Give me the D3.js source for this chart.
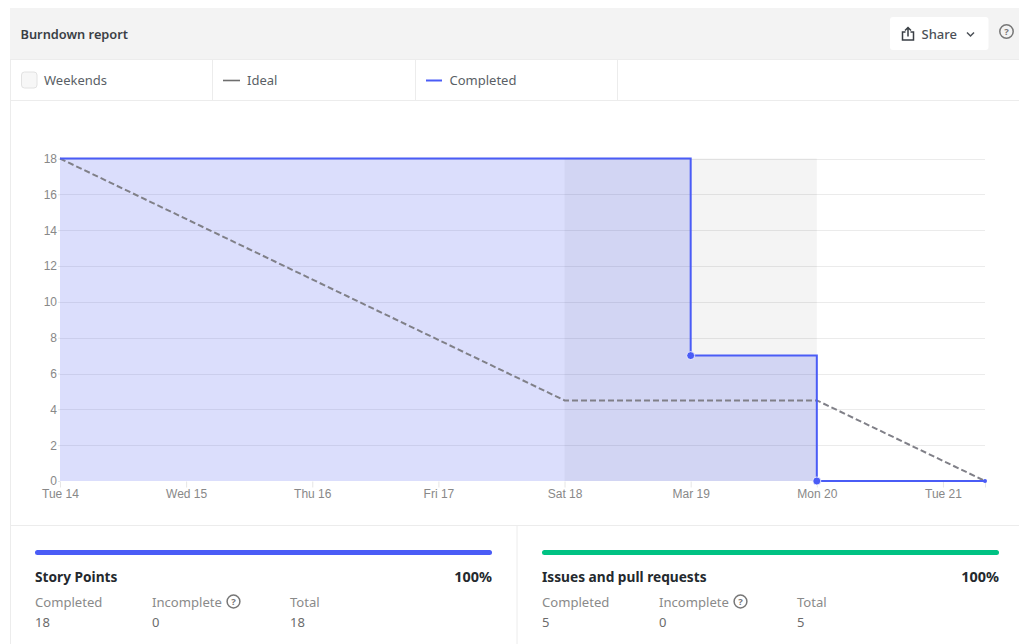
<!DOCTYPE html>
<html>
<head>
<meta charset="utf-8">
<script src="https://cdn.jsdelivr.net/npm/d3@7"></script>
<style>
  html, body { margin: 0; padding: 0; background: #fff; overflow: hidden; }
  svg { display: block; }
  text { font-family: "Noto Sans", sans-serif; }
  .axis text { font-family: "Liberation Sans", Arial, sans-serif; font-size: 12px; fill: #888; }
  .axis path { display: none; }
  .axis line { stroke: #e6e6e6; }
  .grid line { stroke: #000; stroke-opacity: 0.08; }
  .label { fill: #8a8a8a; }
  .value { fill: #6b6b6b; }
  .title { font-size: 13.7px; font-weight: 700; fill: #24292e; }
</style>
</head>
<body>
<script>
const width = 1019,
      height = 644;

// x positions are days, the axis ends a third of a day into Tue 21
const tickDates = ["2023-03-14", "2023-03-15", "2023-03-16", "2023-03-17", "2023-03-18", "2023-03-19", "2023-03-20", "2023-03-21"];
const tickLabels = ["Tue 14", "Wed 15", "Thu 16", "Fri 17", "Sat 18", "Mar 19", "Mon 20", "Tue 21"];
const endDate = "2023-03-21T08:00";
const yTicks = [0, 2, 4, 6, 8, 10, 12, 14, 16, 18];

const idealDates = ["2023-03-14", "2023-03-18", "2023-03-20", endDate];
const idealValues = [18, 4.5, 4.5, 0];

const completedDates = ["2023-03-14", "2023-03-19", "2023-03-20", endDate];
const completedValues = [18, 7, 0, 0];

const weekendBand = ["2023-03-18", "2023-03-20"];

const legendItems = ["Weekends", "Ideal", "Completed"];
const cards = ["Story Points", "Issues and pull requests"];
const cardPercents = ["100%", "100%"];
const cardCompleted = [18, 5];
const cardIncomplete = [0, 0];
const cardTotal = [18, 5];
const cardColors = ["#4a5cf6", "#00c283"];

const parse = s => new Date(s.length > 10 ? s : s + "T00:00");

const x = d3.scaleTime()
    .domain([parse(tickDates[0]), parse(endDate)])
    .range([60, 985]);

const y = d3.scaleLinear()
    .domain([0, 18])
    .range([481, 158.5]);

const svg = d3.select("body")
    .append("svg")
    .attr("width", width)
    .attr("height", height);

// header
svg.append("rect")
    .attr("x", 10).attr("y", 8)
    .attr("width", width - 10).attr("height", 51)
    .attr("fill", "#f3f3f3");

svg.append("text")
    .attr("x", 20.5).attr("y", 39)
    .style("font-size", "12.8px")
    .style("font-weight", 600)
    .attr("fill", "#3a3f45")
    .text("Burndown report");

svg.append("rect")
    .attr("x", 890).attr("y", 17)
    .attr("width", 98.5).attr("height", 33)
    .attr("rx", 3)
    .attr("fill", "#fff");

const shareIcon = svg.append("g")
    .attr("transform", "translate(908,34.5)")
    .attr("fill", "none")
    .attr("stroke", "#3a3f45")
    .attr("stroke-width", 1.5);
shareIcon.append("path").attr("d", "M-2.5,-2.5H-5.5V5.5H5.5V-2.5H2.5");
shareIcon.append("path").attr("d", "M0,2V-6.5M-3,-4L0,-7L3,-4");

svg.append("text")
    .attr("x", 921.5).attr("y", 39)
    .style("font-size", "13px")
    .style("font-weight", 500)
    .attr("fill", "#4b5057")
    .text("Share");

svg.append("path")
    .attr("d", "M967,32.5L970.5,36L974,32.5")
    .attr("fill", "none")
    .attr("stroke", "#4b5057")
    .attr("stroke-width", 1.5);

const helpIcon = (cx, cy, r, col) => {
  svg.append("circle")
      .attr("cx", cx).attr("cy", cy).attr("r", r)
      .attr("fill", "none")
      .attr("stroke", col)
      .attr("stroke-width", 1.5);
  svg.append("text")
      .attr("x", cx).attr("y", cy + 3.4)
      .attr("text-anchor", "middle")
      .style("font-size", "9.5px")
      .style("font-weight", 700)
      .attr("fill", col)
      .text("?");
};
helpIcon(1006.5, 31.5, 6.7, "#777");

// legend row
const rule = "#ececec";
const line = (x1, y1, x2, y2) => svg.append("line")
    .attr("x1", x1).attr("y1", y1)
    .attr("x2", x2).attr("y2", y2)
    .attr("stroke", rule);

line(10, 59.5, width, 59.5);
line(10, 100.5, width, 100.5);
line(10.5, 59, 10.5, height);
line(212.5, 60, 212.5, 100);
line(415.5, 60, 415.5, 100);
line(617.5, 60, 617.5, 100);
line(11, 525.5, width, 525.5);
line(517, 526, 517, height);

svg.append("rect")
    .attr("x", 21.5).attr("y", 72)
    .attr("width", 15.5).attr("height", 16)
    .attr("rx", 3)
    .attr("fill", "#f7f7f7")
    .attr("stroke", "#e2e2e2");

svg.append("line")
    .attr("x1", 223).attr("x2", 240)
    .attr("y1", 80.5).attr("y2", 80.5)
    .attr("stroke", "#6e6e6e")
    .attr("stroke-width", 1.6);

svg.append("line")
    .attr("x1", 426).attr("x2", 442)
    .attr("y1", 80.5).attr("y2", 80.5)
    .attr("stroke", "#4a5cf6")
    .attr("stroke-width", 2);

svg.selectAll("text.legend")
    .data(legendItems)
    .enter().append("text")
    .attr("class", "legend")
    .attr("x", (d, i) => [44, 247, 449.5][i])
    .attr("y", 85)
    .style("font-size", "13px")
    .attr("fill", "#5a5f66")
    .text(d => d);

// weekend band goes under the grid
svg.append("rect")
    .attr("x", x(parse(weekendBand[0])))
    .attr("y", y(18))
    .attr("width", x(parse(weekendBand[1])) - x(parse(weekendBand[0])))
    .attr("height", y(0) - y(18))
    .attr("fill", "#f4f4f4");

svg.append("g")
    .attr("class", "grid")
    .selectAll("line")
    .data(yTicks.filter(d => d > 0))
    .enter().append("line")
    .attr("x1", x.range()[0])
    .attr("x2", x.range()[1])
    .attr("y1", d => Math.round(y(d)) + 0.5)
    .attr("y2", d => Math.round(y(d)) + 0.5);

const completed = completedDates.map((d, i) => [parse(d), completedValues[i]]);
const ideal = idealDates.map((d, i) => [parse(d), idealValues[i]]);

svg.append("path")
    .datum(completed)
    .attr("fill", "#4a5cf0")
    .attr("fill-opacity", 0.2)
    .attr("d", d3.area()
        .curve(d3.curveStepAfter)
        .x(d => x(d[0]))
        .y0(y(0))
        .y1(d => y(d[1])));

// axes
svg.append("g")
    .attr("class", "axis")
    .attr("transform", `translate(0,${y(0) + 0.5})`)
    .call(d3.axisBottom(x)
        .tickValues(tickDates.map(parse).concat([parse(endDate)]))
        .tickFormat((d, i) => tickLabels[i] || "")
        .tickSize(6)
        .tickPadding(2));

svg.append("g")
    .attr("class", "axis")
    .attr("transform", `translate(${x.range()[0]},0)`)
    .call(d3.axisLeft(y)
        .tickValues(yTicks)
        .tickSize(2)
        .tickPadding(1));

svg.append("path")
    .datum(ideal)
    .attr("fill", "none")
    .attr("stroke", "#808088")
    .attr("stroke-width", 2)
    .attr("stroke-dasharray", "6 3")
    .attr("d", d3.line().x(d => x(d[0])).y(d => y(d[1])));

svg.append("path")
    .datum(completed)
    .attr("fill", "none")
    .attr("stroke", "#4a5cf6")
    .attr("stroke-width", 2)
    .attr("d", d3.line()
        .curve(d3.curveStepAfter)
        .x(d => x(d[0]))
        .y(d => y(d[1])));

svg.selectAll("circle.drop")
    .data(completed.slice(1, 3))
    .enter().append("circle")
    .attr("class", "drop")
    .attr("cx", d => x(d[0]))
    .attr("cy", d => y(d[1]))
    .attr("r", 4)
    .attr("fill", "#4a5cf6")
    .attr("stroke", "#fff")
    .attr("stroke-opacity", 0.8);

svg.append("circle")
    .datum(completed[3])
    .attr("cx", d => x(d[0]))
    .attr("cy", d => y(d[1]))
    .attr("r", 2)
    .attr("fill", "#4a5cf6");

// summary cards
const cardLeft = [35, 542];
const cardRight = [492, 999];

cards.forEach((name, i) => {
  const left = cardLeft[i];
  svg.append("rect")
      .attr("x", left).attr("y", 550)
      .attr("width", cardRight[i] - left).attr("height", 5)
      .attr("rx", 2.5)
      .attr("fill", cardColors[i]);

  svg.append("text")
      .attr("class", "title")
      .attr("x", left).attr("y", 581.5)
      .text(name);

  svg.append("text")
      .attr("class", "title")
      .attr("x", cardRight[i]).attr("y", 581.5)
      .attr("text-anchor", "end")
      .style("font-size", "14.4px")
      .text(cardPercents[i]);

  const cols = [left, left + 117, left + 255];
  ["Completed", "Incomplete", "Total"].forEach((t, j) => {
    svg.append("text")
        .attr("class", "label")
        .attr("x", cols[j]).attr("y", 607)
        .style("font-size", "13.1px")
        .text(t);
  });
  [cardCompleted[i], cardIncomplete[i], cardTotal[i]].forEach((v, j) => {
    svg.append("text")
        .attr("class", "value")
        .attr("x", cols[j]).attr("y", 627)
        .style("font-size", "13px")
        .text(v);
  });
  helpIcon(left + 198.5, 601.5, 6.4, "#777");
});
</script>
</body>
</html>
